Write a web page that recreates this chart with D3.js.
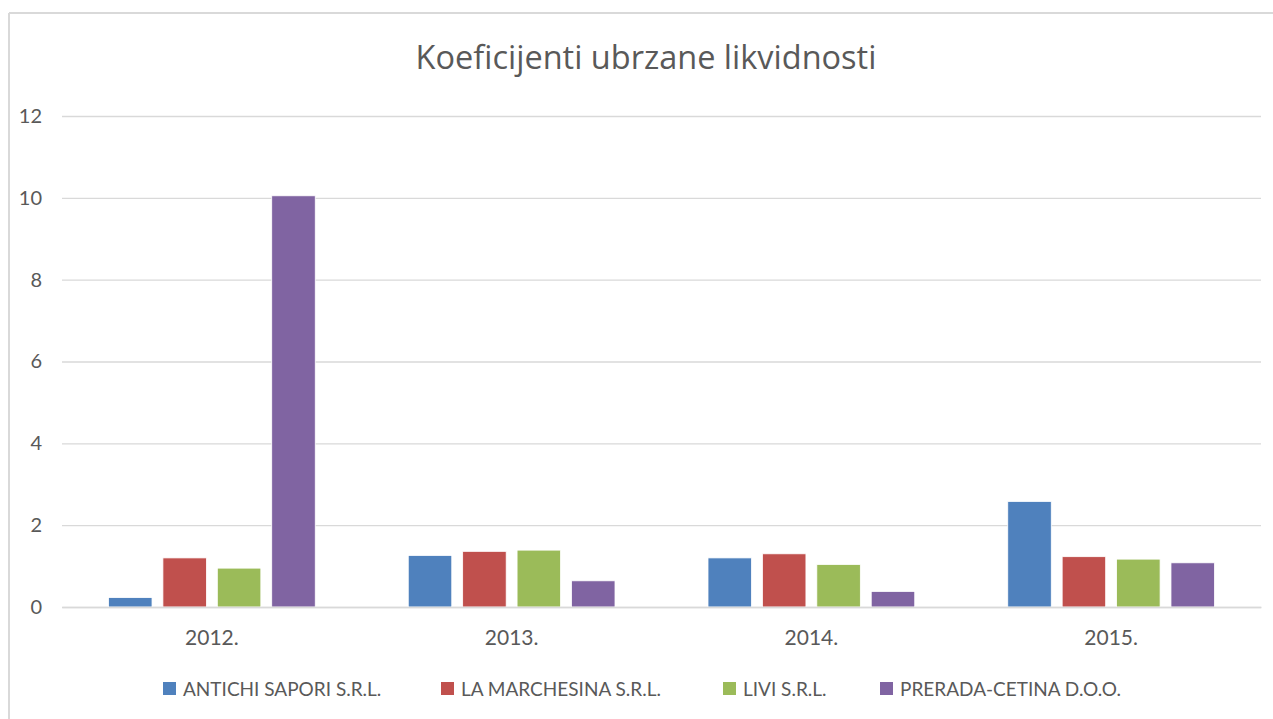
<!DOCTYPE html>
<html><head><meta charset="utf-8">
<script src="https://cdn.jsdelivr.net/npm/d3@7"></script>
<style>body{margin:0;background:#fff;}svg{display:block;}</style>
</head><body>
<script>
const years = ["2012.", "2013.", "2014.", "2015."];
const seriesNames = ["ANTICHI SAPORI S.R.L.", "LA MARCHESINA S.R.L.", "LIVI S.R.L.", "PRERADA-CETINA D.O.O."];
const antichi = [0.23, 1.26, 1.20, 2.58];
const marchesina = [1.20, 1.36, 1.30, 1.23];
const livi = [0.95, 1.39, 1.04, 1.17];
const prerada = [10.05, 0.64, 0.38, 1.08];
const colors = ["#4f81bd", "#c0504d", "#9bbb59", "#8064a2"];
const yTicks = [0, 2, 4, 6, 8, 10, 12];
const title = "Koeficijenti ubrzane likvidnosti";

(function () {
const seriesValues = [antichi, marchesina, livi, prerada];
const W = 1273, H = 719;
const svg = d3.select("body").append("svg").attr("width", W).attr("height", H);
const font = "Lato, 'Open Sans', sans-serif";

// border (top and left visible)
svg.append("line").attr("x1", 9).attr("x2", W).attr("y1", 13).attr("y2", 13).attr("stroke", "#d9d9d9").attr("stroke-width", 2);
svg.append("line").attr("x1", 9).attr("x2", 9).attr("y1", 13).attr("y2", H).attr("stroke", "#d9d9d9").attr("stroke-width", 2);

const pLeft = 62, pRight = 1261, pTop = 116, pBottom = 607;
const x0 = d3.scaleBand().domain(years).range([pLeft, pRight]).paddingInner(0).paddingOuter(0);
const x1 = d3.scaleBand().domain(seriesNames).range([46.5, x0.bandwidth() - 46.5]).paddingInner(0.2).paddingOuter(0);
const y = d3.scaleLinear().domain([0, 12]).range([pBottom, pTop]);

// gridlines
const yAxis = d3.axisLeft(y).tickValues(yTicks).tickSize(-(pRight - pLeft)).tickPadding(20).tickFormat(d3.format("d"));
const ga = svg.append("g").attr("transform", `translate(${pLeft},0)`).call(yAxis);
ga.select(".domain").remove();
ga.selectAll(".tick line").attr("stroke", "#d9d9d9").attr("stroke-width", 1.3);
ga.selectAll(".tick text").attr("fill", "#595959").style("font-family", font).style("font-size", "20px");

// bars
const groups = svg.append("g").selectAll("g").data(years).join("g")
  .attr("transform", d => `translate(${x0(d)},0)`);
groups.selectAll("rect").data((d, i) => seriesNames.map((s, j) => ({s, j, v: seriesValues[j][i]})))
  .join("rect")
  .attr("x", d => x1(d.s))
  .attr("width", x1.bandwidth())
  .attr("y", d => y(d.v))
  .attr("height", d => y(0) - y(d.v))
  .attr("fill", d => colors[d.j])
  .attr("stroke", "#fff").attr("stroke-width", 0.8);

// x axis
const xAxis = d3.axisBottom(x0).tickSize(0).tickPadding(38);
const gx = svg.append("g").attr("transform", `translate(0,${pBottom})`).call(xAxis);
gx.select(".domain").attr("stroke", "#d9d9d9").attr("stroke-width", 1.3);
gx.selectAll(".tick text").attr("dy", null).attr("fill", "#595959").style("font-family", font).style("font-size", "21px");

// title
svg.append("text").attr("x", 646).attr("y", 69).attr("text-anchor", "middle")
  .attr("fill", "#595959").style("font-family", "'Open Sans', sans-serif").style("font-size", "32.5px").text(title);

// legend
const legendX = [163, 441, 723, 880];
const lg = svg.append("g").selectAll("g").data(seriesNames).join("g")
  .attr("transform", (d, i) => `translate(${legendX[i]},696)`);
lg.append("rect").attr("x", 0).attr("y", -14).attr("width", 13).attr("height", 13).attr("fill", (d, i) => colors[i]);
lg.append("text").attr("x", 20).attr("y", 0).attr("fill", "#595959")
  .style("font-family", font).style("font-size", "19px").text(d => d);
})();
</script>
</body></html>
